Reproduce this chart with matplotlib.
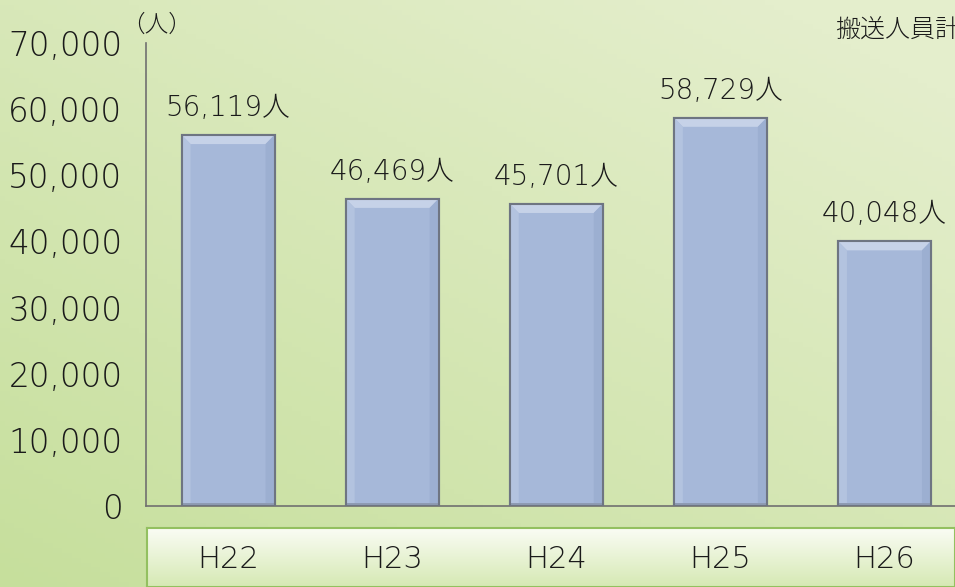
import numpy as np
import matplotlib.pyplot as plt
from matplotlib.patches import Polygon, Rectangle

plt.rcParams['font.family'] = ['DejaVu Sans', 'Noto Sans CJK JP']
plt.rcParams['font.weight'] = 'light'

years = ['H22', 'H23', 'H24', 'H25', 'H26']
persons = [56119, 46469, 45701, 58729, 40048]
yticks = [0, 10000, 20000, 30000, 40000, 50000, 60000, 70000]

W, H = 955, 587
fig = plt.figure(figsize=(W / 100, H / 100), dpi=100)

# background green gradient (lighter towards top right)
bg = fig.add_axes([0, 0, 1, 1], zorder=0)
gx, gy = np.meshgrid(np.linspace(0, 1, 200), np.linspace(1, 0, 120))
t = np.clip(0.5 * gx + 0.6 * gy, 0, 1)[..., None]
c_dark = np.array([198, 223, 156]) / 255
c_light = np.array([228, 238, 204]) / 255
bg.imshow(c_dark * (1 - t) + c_light * t, aspect='auto', extent=[0, 1, 0, 1])
bg.axis('off')

# box behind the category labels
box = fig.add_axes([147 / W, 0, 1 - 147 / W, (H - 528) / H], zorder=1)
by = np.linspace(0, 1, 60)[:, None, None]
c_top = np.array([250, 252, 244]) / 255
c_bot = np.array([214, 233, 180]) / 255
grad = c_top * (1 - by) + c_bot * by
box.imshow(np.repeat(grad, 2, axis=1), aspect='auto', extent=[0, 1, 0, 1])
box.set_xticks([])
box.set_yticks([])
for s in box.spines.values():
    s.set_color('#93c060')
    s.set_linewidth(1.5)

ax = fig.add_axes([146 / W, (H - 506) / H, 1 - 146 / W, 463 / H], zorder=2)
ax.patch.set_alpha(0)
x = np.arange(len(years))
bars = ax.bar(x, persons, width=0.567, color='#a6b8d9', edgecolor='#6e7582',
              linewidth=1.5, zorder=3)
ax.set_xlim(-0.5, 4.43)
ax.set_ylim(0, 70000)

# bevel on each bar
bx, by_ = 0.055, 1400
for b in bars:
    x0, w, h = b.get_x(), b.get_width(), b.get_height()
    x1 = x0 + w
    ax.add_patch(Polygon([[x0, h], [x1, h], [x1 - bx, h - by_], [x0 + bx, h - by_]],
                         closed=True, color='#c6d2e8', lw=0, zorder=4))
    ax.add_patch(Polygon([[x0, h], [x0 + bx, h - by_], [x0 + bx, 0], [x0, 0]],
                         closed=True, color='#b3c3df', lw=0, zorder=4))
    ax.add_patch(Polygon([[x1, h], [x1 - bx, h - by_], [x1 - bx, 0], [x1, 0]],
                         closed=True, color='#9cafd1', lw=0, zorder=4))
    ax.add_patch(Rectangle((x0, 0), w, 500, color='#8e9bb3', lw=0, zorder=4))
    ax.add_patch(Rectangle((x0, 0), w, h, fill=False, ec='#6e7582', lw=1.5, zorder=5))
    ax.annotate(f'{int(h):,}人', (b.get_x() + w / 2, h), xytext=(0, 13.5),
                textcoords='offset points', ha='center', va='baseline',
                fontsize=20, color='#1a1a1a')

for xi, lab in zip(x, years):
    ax.text(xi, -0.134, lab, transform=ax.get_xaxis_transform(), ha='center',
            va='baseline', fontsize=22, color='#1a1a1a')

ax.set_xticks([])
ax.set_yticks(yticks)
ax.set_yticklabels([f'{v:,}' for v in yticks], fontsize=23.5, color='#1a1a1a')
ax.tick_params(axis='y', length=0, pad=17)
for side in ['top', 'right']:
    ax.spines[side].set_visible(False)
ax.spines['left'].set_color('#707070')
ax.spines['bottom'].set_color('#707070')
ax.spines['left'].set_linewidth(1.2)
ax.spines['bottom'].set_linewidth(1.2)

fig.text(157 / W, 1 - 25 / H, '（人）', fontsize=17, ha='center', va='center',
         family='Noto Sans CJK JP', color='#1a1a1a')
fig.text(835 / W, 1 - 30 / H, '搬送人員計', fontsize=18, ha='left', va='center',
         family='Noto Sans CJK JP', color='#1a1a1a')

fig.savefig('out.png', dpi=100)
